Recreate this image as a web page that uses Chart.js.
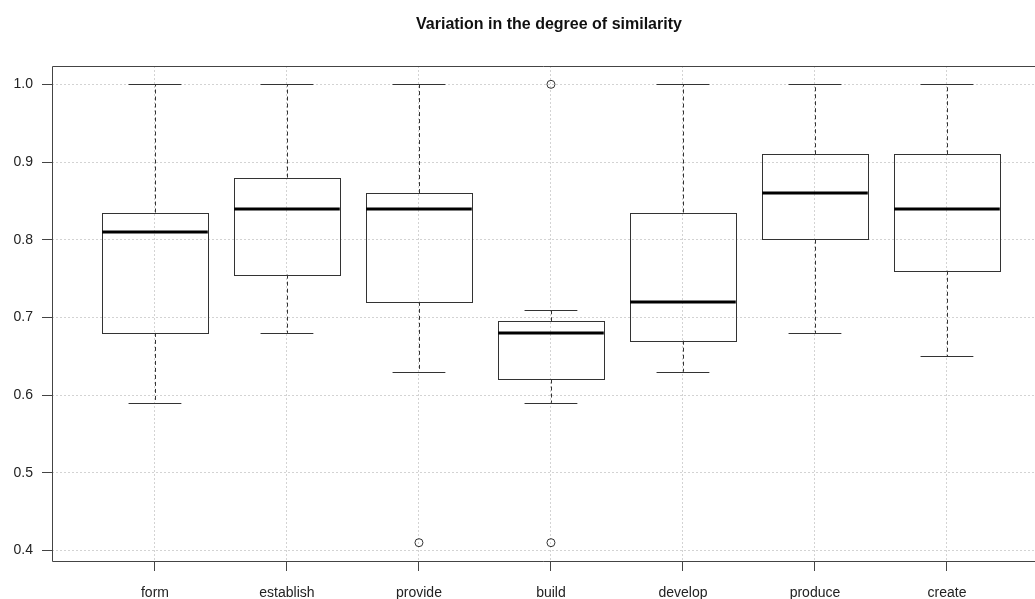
<!DOCTYPE html>
<html>
<head>
<meta charset="utf-8">
<script src="https://cdn.jsdelivr.net/npm/chart.js@4/dist/chart.umd.min.js"></script>
<style>
  html, body { margin: 0; padding: 0; background: #fff; }
</style>
</head>
<body>
<canvas id="chart" width="1035" height="599"></canvas>
<script>
// data
const categories = ['form', 'establish', 'provide', 'build', 'develop', 'produce', 'create'];
const whiskerLow = [0.59, 0.68, 0.63, 0.59, 0.63, 0.68, 0.65];
const q1 = [0.68, 0.755, 0.72, 0.62, 0.67, 0.80, 0.76];
const medians = [0.81, 0.84, 0.84, 0.68, 0.72, 0.86, 0.84];
const q3 = [0.835, 0.88, 0.86, 0.695, 0.835, 0.91, 0.91];
const whiskerHigh = [1.0, 1.0, 1.0, 0.71, 1.0, 1.0, 1.0];
const outlierCat = [3, 4, 4];
const outlierVal = [0.41, 1.0, 0.41];
const yTicks = [0.4, 0.5, 0.6, 0.7, 0.8, 0.9, 1.0];
const chartTitle = 'Variation in the degree of similarity';

const FONT = '"Liberation Sans", Arial, Helvetica, sans-serif';
const INK = '#333';

// boxes, whiskers and medians, placed with the chart scales
const boxPlugin = {
  id: 'boxes',
  beforeDatasetsDraw(chart) {
    const ctx = chart.ctx;
    const xs = chart.scales.x;
    const ys = chart.scales.y;
    const px = (v) => Math.round(v) + 0.5;
    ctx.save();
    for (let i = 0; i < categories.length; i++) {
      const c = xs.getPixelForValue(i + 1);
      const halfBox = xs.getPixelForValue(i + 1.4) - c;
      const halfCap = xs.getPixelForValue(i + 1.2) - c;
      const yLo = ys.getPixelForValue(whiskerLow[i]);
      const yQ1 = ys.getPixelForValue(q1[i]);
      const yMed = ys.getPixelForValue(medians[i]);
      const yQ3 = ys.getPixelForValue(q3[i]);
      const yHi = ys.getPixelForValue(whiskerHigh[i]);

      ctx.strokeStyle = INK;
      ctx.lineWidth = 1;

      // dashed whiskers
      ctx.setLineDash([4, 3]);
      ctx.beginPath();
      ctx.moveTo(px(c), yQ3);
      ctx.lineTo(px(c), yHi);
      ctx.moveTo(px(c), yQ1);
      ctx.lineTo(px(c), yLo);
      ctx.stroke();

      // caps
      ctx.setLineDash([]);
      ctx.beginPath();
      ctx.moveTo(c - halfCap, px(yHi));
      ctx.lineTo(c + halfCap, px(yHi));
      ctx.moveTo(c - halfCap, px(yLo));
      ctx.lineTo(c + halfCap, px(yLo));
      ctx.stroke();

      // box
      ctx.strokeRect(px(c - halfBox), px(yQ3), Math.round(2 * halfBox), Math.round(yQ1 - yQ3));

      // median
      ctx.strokeStyle = '#000';
      ctx.lineWidth = 3;
      ctx.beginPath();
      ctx.moveTo(c - halfBox, Math.round(yMed));
      ctx.lineTo(c + halfBox, Math.round(yMed));
      ctx.stroke();
    }
    ctx.restore();
  },
  afterDraw(chart) {
    const ctx = chart.ctx;
    const a = chart.chartArea;
    const xs = chart.scales.x;
    ctx.save();
    // frame (right side runs off the canvas)
    ctx.strokeStyle = '#444';
    ctx.lineWidth = 1;
    ctx.beginPath();
    ctx.moveTo(chart.width, a.top + 0.5);
    ctx.lineTo(a.left + 0.5, a.top + 0.5);
    ctx.lineTo(a.left + 0.5, a.bottom + 0.5);
    ctx.lineTo(chart.width, a.bottom + 0.5);
    ctx.stroke();
    // title
    ctx.fillStyle = '#111';
    ctx.font = 'bold 16px ' + FONT;
    ctx.textAlign = 'center';
    ctx.textBaseline = 'middle';
    ctx.fillText(chartTitle, xs.getPixelForValue(4) - 2, 25);
    ctx.restore();
  }
};

new Chart(document.getElementById('chart'), {
  type: 'scatter',
  data: {
    datasets: [{
      data: outlierCat.map((c, i) => ({ x: c, y: outlierVal[i] })),
      pointRadius: 4,
      pointBorderWidth: 1,
      pointBorderColor: INK,
      pointBackgroundColor: 'rgba(0,0,0,0)'
    }]
  },
  options: {
    responsive: false,
    animation: false,
    layout: { autoPadding: false, padding: { top: 66, left: 0, right: 0, bottom: 0 } },
    plugins: { legend: { display: false }, tooltip: { enabled: false } },
    scales: {
      x: {
        type: 'linear',
        min: 0.22,
        max: 0.22 + 983 / 132,
        afterFit(s) {
          s.height = 38;
          s.paddingLeft = 0;
          s.paddingRight = 0;
        },
        afterBuildTicks(s) { s.ticks = categories.map((c, i) => ({ value: i + 1 })); },
        ticks: {
          callback: (v) => categories[v - 1],
          font: { family: FONT, size: 14 },
          color: '#222',
          padding: 14,
          maxRotation: 0,
          autoSkip: false
        },
        grid: {
          color: '#d3d3d3',
          lineWidth: 1,
          tickLength: 10,
          tickColor: '#444',
          tickWidth: 1,
          tickBorderDash: []
        },
        border: { display: false, dash: [2, 2] }
      },
      y: {
        min: 0.3864,
        max: 1.0236,
        afterFit(s) {
          s.width = 52;
          s.paddingTop = 0;
          s.paddingBottom = 0;
        },
        afterBuildTicks(s) { s.ticks = yTicks.map((v) => ({ value: v })); },
        ticks: {
          callback: (v) => v.toFixed(1),
          font: { family: FONT, size: 14 },
          color: '#222',
          padding: 9
        },
        grid: {
          color: '#d3d3d3',
          lineWidth: 1,
          tickLength: 10,
          tickColor: '#444',
          tickWidth: 1,
          tickBorderDash: []
        },
        border: { display: false, dash: [2, 2] }
      }
    }
  },
  plugins: [boxPlugin]
});
</script>
</body>
</html>
